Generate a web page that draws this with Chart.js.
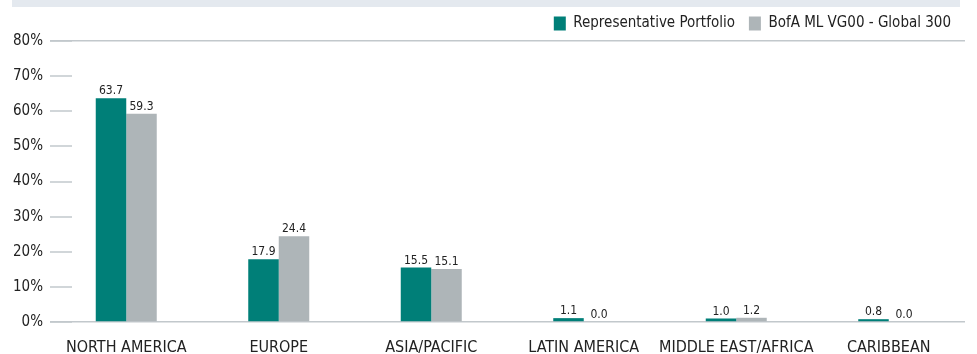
<!DOCTYPE html>
<html>
<head>
<meta charset="utf-8">
<script src="https://cdn.jsdelivr.net/npm/chart.js@4/dist/chart.umd.min.js"></script>
<style>
  html, body { margin: 0; padding: 0; background: #fff; }
  #wrap { width: 977px; height: 354px; }
</style>
</head>
<body>
<div id="wrap"><canvas id="chart-regions"></canvas></div>
<script>
var regions = ['NORTH AMERICA', 'EUROPE', 'ASIA/PACIFIC', 'LATIN AMERICA', 'MIDDLE EAST/AFRICA', 'CARIBBEAN'];
var portfolio = [63.7, 17.9, 15.5, 1.1, 1.0, 0.8];
var benchmark = [59.3, 24.4, 15.1, 0.0, 1.2, 0.0];
var yTicks = [0, 10, 20, 30, 40, 50, 60, 70, 80];

var FONT = "'Liberation Sans Narrow', 'DejaVu Sans Condensed', sans-serif";
var LINE = '#c2c8cc';

// top band + short tick marks + value labels
var extras = {
  id: 'extras',
  beforeDraw: function(chart) {
    var ctx = chart.ctx;
    ctx.save();
    ctx.fillStyle = '#e4e9ef';
    ctx.fillRect(12, 0, 948, 7);
    ctx.restore();
  },
  afterDraw: function(chart) {
    var ctx = chart.ctx;
    var y = chart.scales.y;
    var left = chart.chartArea.left;
    ctx.save();
    ctx.strokeStyle = LINE;
    ctx.lineWidth = 1.5;
    yTicks.forEach(function(v) {
      var py = Math.round(y.getPixelForValue(v));
      ctx.beginPath();
      ctx.moveTo(left, py);
      ctx.lineTo(left + 22, py);
      ctx.stroke();
    });
    ctx.fillStyle = '#222';
    ctx.font = '12px ' + FONT;
    ctx.textAlign = 'center';
    ctx.textBaseline = 'bottom';
    chart.data.datasets.forEach(function(ds, i) {
      chart.getDatasetMeta(i).data.forEach(function(bar, j) {
        ctx.fillText(ds.data[j].toFixed(1), bar.x, bar.y - 1);
      });
    });
    ctx.restore();
  }
};

new Chart(document.getElementById('chart-regions'), {
  type: 'bar',
  data: {
    labels: regions,
    datasets: [{
      label: 'Representative Portfolio',
      backgroundColor: '#007f78',
      data: portfolio,
      categoryPercentage: 0.4,
      barPercentage: 1.0
    }, {
      label: 'BofA ML VG00 - Global 300',
      backgroundColor: '#aeb5b8',
      data: benchmark,
      categoryPercentage: 0.4,
      barPercentage: 1.0
    }]
  },
  options: {
    responsive: true,
    maintainAspectRatio: false,
    animation: false,
    layout: { padding: { top: 2, right: 12, left: 0, bottom: 0 } },
    plugins: {
      legend: {
        position: 'top',
        align: 'end',
        labels: {
          boxWidth: 12,
          boxHeight: 14,
          padding: 14,
          color: '#222',
          font: { family: FONT, size: 15 }
        }
      },
      tooltip: { enabled: false }
    },
    scales: {
      x: {
        afterFit: function(scale) { scale.height = 32; },
        grid: { display: false },
        border: { display: false },
        ticks: {
          color: '#222',
          padding: 8,
          autoSkip: false,
          maxRotation: 0,
          font: { family: FONT, size: 16 }
        }
      },
      y: {
        min: 0,
        max: 80,
        afterFit: function(scale) { scale.width = 50; },
        grid: {
          drawTicks: false,
          lineWidth: 1.5,
          color: function(c) {
            return (c.tick && (c.tick.value === 0 || c.tick.value === 80)) ? LINE : 'rgba(0,0,0,0)';
          }
        },
        border: { display: false },
        ticks: {
          stepSize: 10,
          padding: 7,
          color: '#222',
          font: { family: FONT, size: 15 },
          callback: function(v) { return v + '%'; }
        }
      }
    }
  },
  plugins: [extras]
});
</script>
</body>
</html>
